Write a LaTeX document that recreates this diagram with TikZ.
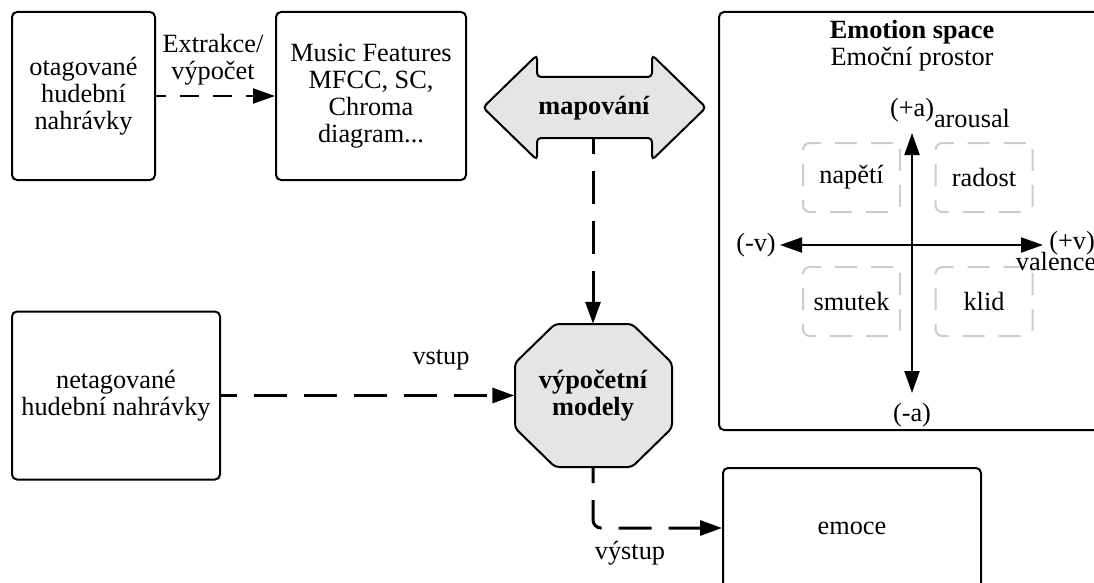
\documentclass[tikz,border=0pt]{standalone}
\usepackage{fontspec}
\setmainfont{Liberation Serif}
\usetikzlibrary{arrows.meta}
\begin{document}
\begin{tikzpicture}[x=1pt,y=-1pt,
  every node/.style={font=\fontsize{26.3}{27}\selectfont, align=center},
  box/.style={draw, line width=2pt, rounded corners=5pt, inner sep=0pt},
  ebox/.style={draw=gray!40, line width=2pt, rounded corners=7pt, dash pattern=on 22pt off 14pt, inner sep=0pt, minimum width=97pt, minimum height=69pt},
  tip/.style={-{Triangle[length=22pt,width=15pt]}},
  bothtips/.style={{Triangle[length=22pt,width=15pt]}-{Triangle[length=22pt,width=15pt]}},
  thindash/.style={line width=2pt, dash pattern=on 19pt off 14pt, dash phase=9pt},
  thickdash/.style={line width=3pt, dash pattern=on 33pt off 17pt, dash phase=17pt},
  shapefill/.style={fill=gray!20, draw, line width=2pt, rounded corners=4pt},
  boldtext/.style={font=\bfseries\fontsize{26.3}{27}\selectfont},
]
\useasboundingbox (0,0) rectangle (1094,583);

% top left
\node[box, minimum width=143pt, minimum height=168pt] (rec) at (83.5,96) {otagované\\hudební\\nahrávky};
\node[box, minimum width=190pt, minimum height=168pt] (feat) at (371,96) {Music Features\\MFCC, SC,\\Chroma\\diagram...};
\draw[thindash, tip] (rec) -- (feat);
\node (extr) at (213,60) {Extrakce/\\výpočet};

% mapping double arrow
\path[shapefill] (483,107.5) -- (537,55) -- (537,77) -- (652,77) -- (652,55) -- (706,107.5) -- (652,160) -- (652,138) -- (537,138) -- (537,160) -- cycle;
\node[boldtext] (map) at (594,108) {mapování};
\coordinate (mapb) at (593,138);

% octagon
\path[shapefill] (555,324) -- (632,324) -- (672,363) -- (672,428) -- (632,467) -- (555,467) -- (515,428) -- (515,363) -- cycle;
\node[boldtext, minimum width=157pt, minimum height=143pt, inner sep=0pt] (model) at (593,395.5) {výpočetní\\modely};
\draw[thickdash, tip] (mapb) -- (model);

% untagged
\node[box, minimum width=208pt, minimum height=168pt] (untag) at (116,395.5) {netagované\\hudební nahrávky};
\draw[thickdash, tip] (untag) -- (model);
\node (vstup) at (441,360) {vstup};

% output
\node[box, minimum width=258pt, minimum height=120pt] (emo) at (852,528) {emoce};
\draw[thickdash, tip, rounded corners=8pt] (model.south) |- (emo.west);
\node (vystup) at (630,553) {výstup};

% emotion space
\node[box, minimum width=391pt, minimum height=418pt] (space) at (914.5,221) {};
\node (title) at (912,46) {\textbf{Emotion space}\\Emoční prostor};
\node[ebox] (nap) at (851.5,177.5) {napětí};
\node[ebox] (rad) at (984,177.5) {radost};
\node[ebox] (smu) at (851.5,301.5) {smutek};
\node[ebox] (kli) at (984,301.5) {klid};
\coordinate (atop) at (912,133);
\coordinate (abot) at (912,393);
\coordinate (vl) at (780,245);
\coordinate (vr) at (1043,245);
\draw[line width=2pt, bothtips] (vl) -- (vr);
\draw[line width=2pt, bothtips] (abot) -- (atop);
\node (pa) at (912,110) {(+a)};
\node (ar) at (972,119) {arousal};
\node (mv) at (756,245) {(-v)};
\node (pv) at (1072,243) {(+v)};
\node (va) at (1056,262) {valence};
\node (ma) at (912,415) {(-a)};
\end{tikzpicture}
\end{document}
